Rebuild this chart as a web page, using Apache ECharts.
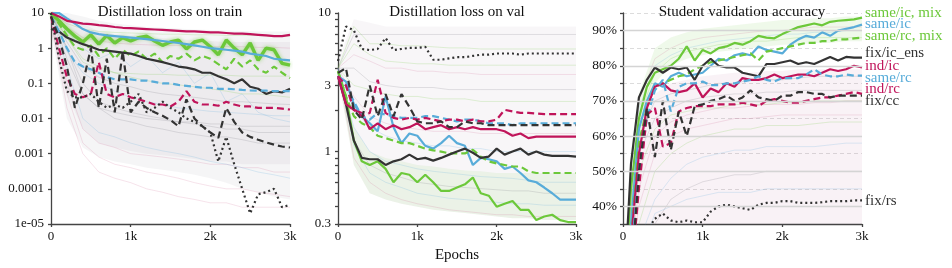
<!DOCTYPE html>
<html><head><meta charset="utf-8">
<script src="https://cdn.jsdelivr.net/npm/echarts@6/dist/echarts.min.js"></script>
<style>html,body{margin:0;padding:0;background:#fff}#c{width:952px;height:268px}</style>
</head><body><div id="c"></div>
<script>
// ---------- data ----------
const epochs = [0,100,200,300,400,500,600,700,800,900,1000,1100,1200,1300,1400,1500,1600,1700,1800,1900,2000,2100,2200,2300,2400,2500,2600,2700,2800,2900,3000];
const bgEpochs = [0,200,400,600,800,1000,1200,1400,1600,1800,2000,2200,2400,2600,2800,3000];
const seriesNames = ['same/ic, mix','same/ic','same/rc, mix','fix/ic_ens','ind/ic','same/rc','ind/rc','fix/cc','fix/rs'];
const panelTitles = ['Distillation loss on train','Distillation loss on val','Student validation accuracy'];
const xTickLabels = ['0','1k','2k','3k'];
const trainTickLabels = ['1e-05','0.0001','0.001','0.01','0.1','1','10'];
const valTickValues = [0.3,1,3,10];
const valTickLabels = ['0.3','1','3','10'];
const valMinorTicks = [0.3,0.4,0.5,0.6,0.7,0.8,0.9,1,2,3,4,5,6,7,8,9,10];
const accTickValues = [40,50,60,70,80,90];
const accTickLabels = ['40%','50%','60%','70%','80%','90%'];

// train loss
const trainSameIcMix = [10,6,3.5,2.2,1.5,2.4,1.3,2.3,1.4,2.0,1.6,2.0,2.2,1.6,1.2,1.5,1.7,0.95,1.5,1.7,1.1,0.65,1.7,1.0,0.65,1.4,0.45,1.0,0.9,0.37,0.33];
const trainSameIc    = [10,10,7,5,3.5,2.8,2.5,2.3,2.2,2.1,2.0,1.9,1.8,1.7,1.6,1.5,1.4,1.3,1.2,1.1,1.0,0.95,0.9,0.85,0.8,0.7,0.65,0.6,0.5,0.47,0.45];
const trainSameRcMix = [10,5,2.3,1.1,0.9,1.2,0.6,1.0,0.5,0.9,0.6,0.8,0.5,0.7,0.4,0.6,0.5,0.7,0.45,0.6,0.5,0.35,0.25,0.5,0.3,0.45,0.25,0.2,0.3,0.2,0.14];
const trainFixIcEns  = [3.5,3,2,1.6,1.3,1.1,0.9,0.85,0.8,0.75,0.7,0.6,0.5,0.45,0.4,0.35,0.3,0.28,0.25,0.2,0.2,0.16,0.13,0.1,0.13,0.08,0.07,0.05,0.06,0.055,0.07];
const trainIndIc     = [10,8,6,5.5,5,4.8,4.5,4.3,4,3.8,3.7,3.6,3.5,3.4,3.3,3.2,3.1,3.0,3.0,2.9,2.8,2.8,2.7,2.6,2.6,2.5,2.4,2.3,2.2,2.2,2.4];
const trainSameRc    = [8,3,1,0.4,0.3,0.25,0.2,0.15,0.13,0.13,0.13,0.12,0.12,0.11,0.1,0.1,0.09,0.085,0.08,0.075,0.075,0.07,0.07,0.068,0.065,0.063,0.062,0.062,0.06,0.06,0.06];
const trainIndRc     = [8,1,0.15,0.05,0.04,0.05,0.4,0.05,0.04,0.05,0.04,0.035,0.03,0.025,0.025,0.022,0.03,0.06,0.03,0.025,0.025,0.023,0.03,0.025,0.022,0.022,0.02,0.02,0.02,0.019,0.018];
const trainFixCc     = [8,2,0.3,0.02,0.1,1.0,0.02,0.5,0.015,0.8,0.015,0.03,0.02,0.015,0.012,0.009,0.006,0.035,0.01,0.006,0.004,0.0028,0.02,0.008,0.004,0.003,0.0025,0.0021,0.0018,0.0016,0.0015];
const trainFixRs     = [10,0.5,0.06,0.04,0.04,0.05,0.03,0.02,0.025,0.02,0.03,0.05,0.015,0.02,0.03,0.02,0.015,0.01,0.008,0.006,0.004,0.0006,0.003,0.0005,0.0001,0.00002,0.00007,0.00008,0.0001,0.00003,0.000035];
const trainBandOuterLow  = [3,0.01,0.0015,0.0008,0.0006,0.0005,0.0004,0.00035,0.0003,0.00025,0.0002,0.00015,0.0001,0.00008,0.00006,0.00005];
const trainBandOuterHigh = [10,10,8,6,5,4.5,4,3.8,3.6,3.4,3.3,3.2,3.1,3.0,3.0,3.0];
const trainBandCoreLow   = [3,0.05,0.005,0.002,0.0015,0.0012,0.001,0.0009,0.0008,0.0007,0.0006,0.0006,0.0005,0.0005,0.0005,0.0005];
const trainBandCoreHigh  = [10,8,5,3,2.5,2.2,2,1.9,1.8,1.7,1.6,1.5,1.5,1.5,1.5,1.5];
const trainBackground = [
  [10,0.5,0.05,0.02,0.01,0.008,0.006,0.005,0.004,0.0035,0.003,0.003,0.0025,0.002,0.002,0.002],
  [8,0.1,0.005,0.002,0.0015,0.001,0.0009,0.0008,0.0007,0.0006,0.0005,0.0005,0.0004,0.0004,0.0003,0.0003],
  [10,2,0.5,0.3,0.2,0.15,0.12,0.1,0.09,0.08,0.07,0.06,0.05,0.05,0.045,0.04],
  [9,0.3,0.01,0.004,0.003,0.002,0.0015,0.0012,0.001,0.0008,0.0006,0.0005,0.0004,0.0003,0.00025,0.0002],
  [10,1,0.1,0.03,0.02,0.015,0.012,0.01,0.008,0.007,0.006,0.005,0.005,0.004,0.004,0.004],
  [10,4,2,1.6,1.4,1.3,1.25,1.2,1.2,1.15,1.1,1.1,1.1,1.05,1.05,1.0],
  [10,2,0.4,0.25,0.2,0.19,0.18,0.18,0.17,0.17,0.17,0.17,0.16,0.16,0.16,0.16],
  [10,3,1,0.5,0.8,0.3,0.6,0.2,0.4,0.1,0.2,0.03,0.05,0.015,0.01,0.008],
  [10,1,0.05,0.02,0.015,0.012,0.01,0.009,0.008,0.008,0.007,0.007,0.006,0.006,0.006,0.006],
  [5,0.05,0.002,0.0008,0.0005,0.0004,0.0003,0.00025,0.0002,0.00015,0.00012,0.0001,0.0001,0.00008,0.00007,0.00006],
  [10,5,3.5,3,2.8,2.7,2.6,2.5,2.5,2.4,2.4,2.3,2.3,2.3,2.2,2.2],
  [10,0.8,0.2,0.1,0.06,0.04,0.03,0.025,0.02,0.018,0.016,0.015,0.014,0.013,0.012,0.012],
  [10,1.5,0.3,0.15,0.1,0.08,0.06,0.05,0.045,0.04,0.035,0.03,0.03,0.028,0.026,0.025],
  [7,0.02,0.001,0.0003,0.0002,0.00015,0.0001,0.00008,0.00006,0.00005,0.00004,0.00004,0.00003,0.00003,0.00003,0.00003]
];

// val loss
const valSameIcMix = [3.8,2.5,1.2,0.85,0.8,0.85,0.75,0.6,0.7,0.68,0.6,0.68,0.6,0.52,0.52,0.55,0.58,0.65,0.5,0.48,0.4,0.42,0.44,0.38,0.38,0.32,0.34,0.35,0.32,0.31,0.31];
const valSameIc    = [3.5,3.2,2.2,1.8,1.6,1.4,2.5,1.5,1.15,1.35,1.3,1.1,1.05,1.15,1.3,1.15,1.1,0.8,0.9,0.88,0.85,0.75,0.78,0.7,0.62,0.6,0.55,0.5,0.45,0.45,0.45];
const valSameRcMix = [3.8,2.5,1.8,1.6,1.5,1.3,1.25,1.2,1.15,1.15,1.1,1.05,1.02,1.0,0.97,0.97,0.97,1.03,0.92,0.85,0.82,0.8,0.78,0.78,0.72,0.7,0.7,0.7,0.7,0.7,0.7];
const valFixIcEns  = [3.5,2.2,1.2,0.9,0.88,0.88,0.8,0.85,0.88,0.95,0.88,0.9,0.86,0.9,0.95,1.0,1.05,0.98,0.9,0.92,1.05,0.95,1.0,1.05,0.95,1.0,0.95,0.93,0.93,0.93,0.92];
const valIndIc     = [3.5,2.2,2.0,1.9,1.45,1.6,1.45,1.55,1.45,1.5,1.6,1.45,1.5,1.55,1.45,1.5,1.45,1.5,1.45,1.45,1.45,1.4,1.3,1.35,1.25,1.28,1.28,1.28,1.28,1.28,1.28];
const valSameRc    = [3.5,3,2.3,1.8,1.7,1.9,1.85,1.8,1.75,1.75,1.75,1.8,1.8,1.75,1.7,1.65,1.7,1.7,1.65,1.6,1.6,1.6,1.55,1.6,1.6,1.6,1.6,1.6,1.6,1.6,1.6];
const valIndRc     = [3.5,3,2.0,1.8,1.9,3.3,1.9,1.75,1.7,1.75,1.7,1.75,1.7,1.65,1.7,1.7,1.65,1.7,1.65,1.65,1.7,2.0,1.95,1.9,1.9,1.88,1.86,1.86,1.86,1.86,1.86];
const valFixCc     = [3.7,4.0,2.0,1.7,3.0,1.8,2.6,1.8,2.6,2.1,1.65,1.6,1.6,1.65,1.5,1.5,1.65,1.6,1.6,1.55,1.55,1.55,1.55,1.55,1.55,1.55,1.55,1.55,1.55,1.55,1.55];
const valFixRs     = [4.5,8,7.5,5.5,5.4,5.5,6.6,5.4,5.5,5.6,5.6,5.7,4.6,4.6,4.7,4.8,4.8,4.9,5,5,5.1,5.1,5.1,5,5.1,5.1,5.1,5.1,5.1,5.1,5.1];
const valBandOuterLow  = [3.5,0.8,0.5,0.45,0.42,0.4,0.38,0.37,0.36,0.35,0.34,0.33,0.33,0.32,0.32,0.32];
const valBandOuterHigh = [4.5,9,8.5,8,8,8,8,8,8,8,8,8,8,8,8,8];
const valBandGreenHigh = [3.8,1.5,1.0,0.9,0.85,0.8,0.78,0.75,0.73,0.72,0.7,0.7,0.7,0.7,0.7,0.7];
const valBackground = [
  [4,7,7,7,7,7,7,7,7,7,7,7,7,7,7,7],
  [4,5,4.5,4,4,3.8,3.8,3.7,3.7,3.6,3.6,3.6,3.6,3.6,3.6,3.6],
  [4,3,2.8,2.6,2.5,2.5,2.4,2.4,2.4,2.3,2.3,2.3,2.3,2.3,2.3,2.3],
  [4,2,1.5,1.3,1.2,1.15,1.1,1.1,1.05,1.05,1.0,1.0,1.0,1.0,1.0,1.0],
  [4,1.2,0.8,0.7,0.65,0.6,0.58,0.56,0.55,0.54,0.53,0.52,0.52,0.5,0.5,0.5],
  [4,0.9,0.6,0.5,0.45,0.42,0.4,0.38,0.37,0.36,0.35,0.35,0.34,0.34,0.34,0.34],
  [4,8,6,6,5.8,5.8,5.7,5.6,5.6,5.5,5.5,5.5,5.5,5.5,5.5,5.5],
  [4,1.5,1.0,0.85,0.8,0.75,0.72,0.7,0.68,0.66,0.65,0.64,0.62,0.6,0.6,0.6],
  [4,4,3.2,3,2.9,2.9,2.9,2.8,2.8,2.8,2.8,2.8,2.8,2.8,2.8,2.8],
  [4,2.5,1.8,1.6,1.5,1.45,1.4,1.4,1.4,1.35,1.35,1.35,1.35,1.35,1.35,1.35],
  [4,6,5,4.5,4.4,4.3,4.3,4.2,4.2,4.2,4.2,4.2,4.2,4.2,4.2,4.2],
  [4,1.1,0.7,0.6,0.55,0.5,0.48,0.46,0.45,0.44,0.43,0.42,0.42,0.41,0.41,0.41]
];

// accuracy (%)
const accSameIcMix = [10,45,65,74,78,79,80,82,85.5,81.5,84.5,83.5,85,85.5,86.5,86,87,88.5,88,87.8,89,90,91,91.5,92,91.5,92.5,92.8,93,93.2,93.7];
const accSameIc    = [10,35,62,70,75,74,77,78,77,77.5,78,80,82,81.5,83,83.5,83,85.5,84.5,84,83.5,86,87.5,88.5,88,89.5,88.5,90,90.5,91,91.7];
const accSameRcMix = [10,30,58,68,74,75,76,77,77.5,79,80,81,81.5,82,82.5,83,83.5,81.5,84,84.5,85,85.5,86,86.5,86.5,87,87,87.5,87.5,87.8,88];
const accFixIcEns  = [10,52,71,76,79.5,78,79.5,79,79.5,76,80,82,80,79.5,79.5,78,77.5,77,80.5,80.5,81,81.5,80.5,81,80.5,81.5,82.5,81.5,82.5,82.3,82.3];
const accIndIc     = [10,30,55,68,74,75,73,72.5,73,75,71,73.5,72.5,75,74,76.5,76,76,76.5,77.5,76.5,77,77.5,77.5,77,78,79,78.5,79,80,79.5];
const accSameRc    = [10,25,50,65,73,76,67,74,75,75,75.5,74.5,74.5,75,75,75.5,76,77,76,75.5,76.5,76.5,76.5,77.5,79,77.5,77,77,77.5,77.2,77.2];
const accIndRc     = [10,20,45,66,68,57,58,67,68,68.5,68.5,68.5,69,69,69,69.5,69,68.5,70,70.5,70,69.5,69.5,70,70.5,71,71,71.5,72,72.5,72];
const accFixCc     = [10,20,50,68,54,70,56,67,60,68.5,69,70,70.5,71.5,70,71,73,71,70.5,70,71.5,71.5,72.5,72.5,72,72,71,71.5,71.5,71.5,71.5];
const accFixRs     = [10,20,30,33,36.5,38,36,35.5,36,35.5,35.5,38.5,40,40.5,40,39.5,39,40.5,41,41,41.5,41.5,41,41,41,41.2,41.5,41.5,41.5,41.7,41.7];
const accBandPinkLow   = [10,10,25,30,30,30,30,30,30,30,30,30,30,30,30,30];
const accBandPinkHigh  = [10,60,72,75,76,77,77.5,78,78,78.5,78.5,79,79,79,79,79];
const accBandGreenLow  = [10,55,75,80,82,83,84,84.5,85,85.5,86,86,86.5,86.5,87,87];
const accBandGreenHigh = [10,72,85,88,89.5,90.5,91,91.5,92,92.5,93,93,93.5,93.5,94,94];
const accBackground = [
  [10,60,70,72,73,74,75,75,76,76,76,76.5,77,77,77,77],
  [10,45,60,64,66,67,68,68,68.5,69,69,69,69.5,69.5,70,70],
  [10,35,50,55,58,60,61,62,62,63,63,63,63.5,64,64,64],
  [10,30,42,48,52,54,55,56,56,57,57,57,57,57.5,58,58],
  [10,20,35,42,45,47,48,49,49,50,50,50,50,50,50,50],
  [10,70,82,85,87,88,88.5,89,89.5,90,90,90.5,91,91,91,91],
  [10,65,78,82,84,85,86,86.5,87,87,87.5,88,88,88,88,88],
  [10,25,38,40,42,43,44,44,44,45,45,45,45,45,45,45],
  [10,55,65,68,70,71,71.5,72,72,72.5,72.5,73,73,73,73,73],
  [10,40,55,60,62,63,64,65,65,65.5,66,66,66,66,66,66],
  [10,50,62,66,67,68,68,69,69,69,69.5,69.5,70,70,70,70],
  [10,68,80,83,85,86,87,87.5,88,88.5,89,89,89.5,89.5,90,90]
];

// ---------- styling (not data) ----------
const GREEN = '#6cc83a', BLUE = '#58acd9', MAGENTA = '#c0145a', BLACK = '#333333';
const styleOf = {
  'same/ic, mix': [GREEN, 'solid'], 'same/ic': [BLUE, 'solid'], 'same/rc, mix': [GREEN, 'dashed'],
  'fix/ic_ens': [BLACK, 'solid'], 'ind/ic': [MAGENTA, 'solid'], 'same/rc': [BLUE, 'dashed'],
  'ind/rc': [MAGENTA, 'dashed'], 'fix/cc': [BLACK, 'dashed'], 'fix/rs': [BLACK, 'dotted']
};
const dashOf = { solid: 'solid', dashed: [7, 4], dotted: [2, 3] };
const bgColors = ['rgba(120,120,130,0.25)', 'rgba(200,90,140,0.22)', 'rgba(110,200,60,0.25)', 'rgba(90,170,220,0.25)'];
const panels = [
  [trainSameIcMix, trainSameIc, trainSameRcMix, trainFixIcEns, trainIndIc, trainSameRc, trainIndRc, trainFixCc, trainFixRs],
  [valSameIcMix, valSameIc, valSameRcMix, valFixIcEns, valIndIc, valSameRc, valIndRc, valFixCc, valFixRs],
  [accSameIcMix, accSameIc, accSameRcMix, accFixIcEns, accIndIc, accSameRc, accIndRc, accFixCc, accFixRs]
];
const backgrounds = [trainBackground, valBackground, accBackground];
const bands = [
  [0, trainBandOuterLow, trainBandOuterHigh, 'rgba(140,140,155,0.09)'],
  [0, trainBandCoreLow, trainBandCoreHigh, 'rgba(170,140,165,0.09)'],
  [1, valBandOuterLow, valBandOuterHigh, 'rgba(180,150,175,0.09)'],
  [1, valBandOuterLow, valBandGreenHigh, 'rgba(130,205,90,0.10)'],
  [2, accBandPinkLow, accBandPinkHigh, 'rgba(200,130,170,0.10)'],
  [2, accBandGreenLow, accBandGreenHigh, 'rgba(130,205,90,0.13)']
];

const FONT = 'Liberation Serif';
const gridBoxes = [
  { left: 51, top: 13, width: 239, height: 211 },
  { left: 338, top: 13, width: 238, height: 211 },
  { left: 623, top: 13, width: 239, height: 211 }
];
const titleCenters = [170, 457, 742];

const axisLineStyle = { color: '#444', width: 1.3 };
const labelStyle = { color: '#111', fontFamily: FONT, fontSize: 13 };

const xAxes = gridBoxes.map((g, i) => ({
  type: 'value', gridIndex: i, min: 0, max: 3000, interval: 1000,
  axisLine: { show: true, lineStyle: axisLineStyle },
  axisTick: { show: true, length: 3, lineStyle: axisLineStyle },
  splitLine: { show: false },
  axisLabel: Object.assign({ margin: 6, formatter: v => xTickLabels[Math.round(v / 1000)] }, labelStyle),
  name: i === 1 ? 'Epochs' : '', nameLocation: 'middle', nameGap: 20,
  nameTextStyle: { color: '#111', fontFamily: FONT, fontSize: 15 }
}));

const yAxes = [
  {
    type: 'log', gridIndex: 0, min: 0.00001, max: 10, logBase: 10,
    axisLine: { show: true, onZero: false, lineStyle: axisLineStyle },
    axisTick: { show: true, length: 3, lineStyle: axisLineStyle },
    splitLine: { show: false },
    axisLabel: Object.assign({ margin: 7, formatter: v => trainTickLabels[Math.round(Math.log10(v)) + 5] }, labelStyle)
  },
  {
    type: 'log', gridIndex: 1, min: 0.3, max: 10,
    axisLine: { show: true, onZero: false, lineStyle: axisLineStyle },
    axisTick: { show: true, length: 3, customValues: valMinorTicks, lineStyle: axisLineStyle },
    splitLine: { show: false },
    axisLabel: Object.assign({ margin: 7, customValues: valTickValues,
      formatter: v => { const k = valTickValues.findIndex(t => Math.abs(t - v) < 1e-6); return k >= 0 ? valTickLabels[k] : ''; } }, labelStyle)
  },
  {
    type: 'value', gridIndex: 2, min: 35, max: 95, interval: 5,
    axisLine: { show: true, onZero: false, lineStyle: axisLineStyle },
    axisTick: { show: true, length: 3, lineStyle: axisLineStyle },
    splitLine: { show: true, lineStyle: { color: '#dcdcdc', width: 1, type: [4, 3] } },
    axisLabel: Object.assign({ margin: 6, formatter: v => { const k = accTickValues.indexOf(Math.round(v)); return k >= 0 ? accTickLabels[k] : ''; } }, labelStyle, { fontSize: 13.5 })
  }
];

const series = [];
// shaded spread of all runs, drawn as polygons through the axes' own scales
bands.forEach(([p, low, high, color]) => {
  series.push({
    type: 'custom', xAxisIndex: p, yAxisIndex: p, silent: true, z: 0,
    data: [[bgEpochs[0], high[0]]],
    renderItem: (params, api) => {
      const lowPts = bgEpochs.map((e, k) => api.coord([e, low[k]]));
      const highPts = bgEpochs.map((e, k) => api.coord([e, high[k]])).reverse();
      const cs = params.coordSys;
      return {
        type: 'group',
        clipPath: { type: 'rect', shape: { x: cs.x, y: cs.y, width: cs.width, height: cs.height } },
        children: [{ type: 'polygon', shape: { points: lowPts.concat(highPts) }, style: { fill: color } }]
      };
    }
  });
});
backgrounds.forEach((runs, p) => {
  runs.forEach((vals, r) => {
    const s = {
      type: 'line', xAxisIndex: p, yAxisIndex: p, silent: true, showSymbol: false, symbol: 'none', z: 1,
      data: bgEpochs.map((e, k) => [e, vals[k]]),
      lineStyle: { color: bgColors[r % bgColors.length], width: 0.8 }
    };
    if (p === 2 && r === 0) {
      s.markLine = {
        silent: true, symbol: 'none', label: { show: false },
        lineStyle: { color: '#d4d4d4', width: 1.4, type: 'solid' },
        data: accTickValues.map(v => ({ yAxis: v }))
      };
    }
    series.push(s);
  });
});
panels.forEach((list, p) => {
  list.forEach((vals, i) => {
    const name = seriesNames[i];
    const [color, kind] = styleOf[name];
    const thick = (p === 0 && i === 0);
    series.push({
      type: 'line', name, xAxisIndex: p, yAxisIndex: p, showSymbol: false, symbol: 'none', z: 3,
      data: epochs.map((e, k) => [e, vals[k]]),
      lineStyle: Object.assign({ color, width: thick ? 3.4 : 2.2, type: dashOf[kind] },
        thick ? { shadowColor: 'rgba(108,200,58,0.6)', shadowBlur: 4 } : {})
    });
  });
});

const labelYs = [13, 24, 36, 53, 66, 78, 89, 101, 201];
const graphic = seriesNames.map((n, i) => ({
  type: 'text', x: 865, y: labelYs[i], silent: true, z: 10,
  style: { text: n, fill: styleOf[n][0], fontFamily: FONT, fontSize: 15, verticalAlign: 'middle', align: 'left' }
}));

const chart = echarts.init(document.getElementById('c'), null, { renderer: 'canvas' });
chart.setOption({
  animation: false,
  backgroundColor: '#fff',
  title: panelTitles.map((t, i) => ({
    text: t, left: titleCenters[i], top: 5, textAlign: 'center', padding: 0, z: 10,
    textStyle: { color: '#111', fontFamily: FONT, fontSize: 15, fontWeight: 'normal' }
  })),
  grid: gridBoxes,
  xAxis: xAxes,
  yAxis: yAxes,
  series,
  graphic
});
</script></body></html>
